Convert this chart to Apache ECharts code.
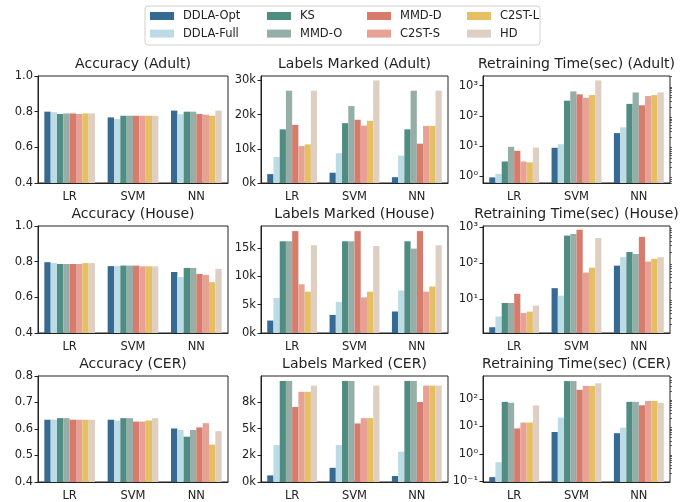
<!DOCTYPE html>
<html>
<head>
<meta charset="utf-8">
<script src="https://cdn.jsdelivr.net/npm/echarts@6/dist/echarts.min.js"></script>
<style>
  html, body { margin: 0; padding: 0; background: #fff; }
  #chart { width: 684px; height: 502px; }
</style>
</head>
<body>
<div id="chart"></div>
<script>
var categories = ['LR', 'SVM', 'NN'];
var methods = ['DDLA-Opt', 'DDLA-Full', 'KS', 'MMD-O', 'MMD-D', 'C2ST-S', 'C2ST-L', 'HD'];
var colors = ['#366a92', '#bcdbe5', '#4f8c82', '#95aea7', '#d77b6d', '#e8a295', '#e5bf63', '#dfcfc2'];

// one row per category (LR, SVM, NN), one value per method
var accAdult = [
  [0.800, 0.797, 0.787, 0.790, 0.790, 0.787, 0.790, 0.790],
  [0.768, 0.758, 0.777, 0.777, 0.777, 0.777, 0.777, 0.777],
  [0.806, 0.786, 0.800, 0.800, 0.787, 0.783, 0.777, 0.806]
];
var labelsAdult = [
  [2600, 7600, 15700, 27000, 17000, 10800, 11300, 27000],
  [3000, 8700, 17500, 22500, 18500, 16800, 18200, 30000],
  [1700, 8000, 15700, 27000, 11500, 16700, 16700, 27000]
];
var timeAdult = [
  [0.92, 1.2, 3.1, 9.5, 7.0, 3.1, 2.9, 9.0],
  [8.8, 11.6, 320, 650, 520, 400, 490, 1500],
  [27, 42, 250, 600, 225, 455, 490, 600]
];
var accHouse = [
  [0.797, 0.792, 0.787, 0.787, 0.787, 0.787, 0.792, 0.792],
  [0.775, 0.775, 0.778, 0.778, 0.778, 0.774, 0.774, 0.774],
  [0.742, 0.714, 0.765, 0.765, 0.731, 0.726, 0.685, 0.760]
];
var labelsHouse = [
  [2200, 6200, 16200, 16200, 18000, 8600, 7300, 15500],
  [3200, 5500, 16200, 16200, 18000, 6300, 7300, 15350],
  [3800, 7500, 16200, 14900, 18000, 7300, 8200, 15500]
];
var timeHouse = [
  [1.66, 3.3, 7.8, 7.8, 14, 4.1, 4.5, 6.6],
  [20, 12.4, 570, 630, 830, 54, 74, 490],
  [84, 144, 200, 176, 525, 109, 130, 144]
];
var accCER = [
  [0.635, 0.635, 0.641, 0.641, 0.635, 0.635, 0.635, 0.635],
  [0.635, 0.632, 0.641, 0.641, 0.628, 0.628, 0.632, 0.641],
  [0.602, 0.596, 0.571, 0.596, 0.606, 0.622, 0.541, 0.592]
];
var labelsCER = [
  [620, 3460, 9475, 9475, 7040, 8460, 8460, 9040],
  [1330, 3460, 9475, 9475, 5490, 5990, 5990, 9040],
  [560, 2840, 9475, 9475, 7500, 9040, 9040, 9040]
];
var timeCER = [
  [0.143, 0.5, 79, 73, 8.5, 13.9, 13.9, 59],
  [6.3, 21, 450, 450, 217, 300, 300, 375],
  [5.7, 9.1, 79, 79, 59, 85, 85, 73]
];

// y tick positions
var accTicks = [0.4, 0.6, 0.8, 1.0];
var accTicksCER = [0.4, 0.5, 0.6, 0.7, 0.8];
var labelTicksAdult = [0, 10000, 20000, 30000];
var labelTicksHouse = [0, 5000, 10000, 15000];
var labelTicksCER = [0, 2500, 5000, 7500];
var timeTicksAdult = [1, 10, 100, 1000];
var timeTicksHouse = [10, 100, 1000];
var timeTicksCER = [0.1, 1, 10, 100];

function fmtDec(v) { return v.toFixed(1); }
function fmtK(v) {
  // python style round-half-even, like '%.0fk'
  var k = v / 1000, f = Math.floor(k), r;
  if (Math.abs(k - f - 0.5) < 1e-9) r = (f % 2 === 0) ? f : f + 1;
  else r = Math.round(k);
  return r + 'k';
}
var sup = { '-': '\u207B', '0': '\u2070', '1': '\u00B9', '2': '\u00B2', '3': '\u00B3', '4': '\u2074' };
function fmtPow(v) {
  var e = Math.round(Math.log10(v));
  return '10' + String(e).split('').map(function(c) { return sup[c]; }).join('');
}
// log minor ticks 2..9 x 10^n inside [min, max]
function minorLog(min, max) {
  var out = [];
  for (var e = Math.floor(Math.log10(min)); e <= Math.ceil(Math.log10(max)); e++) {
    for (var k = 2; k <= 9; k++) {
      var v = k * Math.pow(10, e);
      if (v >= min && v <= max) out.push(v);
    }
  }
  return out;
}

var panels = [
  { title: 'Accuracy (Adult)', data: accAdult, type: 'value', min: 0.4, max: 1.0, ticks: accTicks, fmt: fmtDec },
  { title: 'Labels Marked (Adult)', data: labelsAdult, type: 'value', min: 0, max: 31300, ticks: labelTicksAdult, fmt: fmtK },
  { title: 'Retraining Time(sec) (Adult)', data: timeAdult, type: 'log', min: 0.6, max: 2100, ticks: timeTicksAdult, fmt: fmtPow },
  { title: 'Accuracy (House)', data: accHouse, type: 'value', min: 0.4, max: 1.0, ticks: accTicks, fmt: fmtDec },
  { title: 'Labels Marked (House)', data: labelsHouse, type: 'value', min: 0, max: 18900, ticks: labelTicksHouse, fmt: fmtK },
  { title: 'Retraining Time(sec) (House)', data: timeHouse, type: 'log', min: 1.15, max: 1050, ticks: timeTicksHouse, fmt: fmtPow },
  { title: 'Accuracy (CER)', data: accCER, type: 'value', min: 0.4, max: 0.8, ticks: accTicksCER, fmt: fmtDec },
  { title: 'Labels Marked (CER)', data: labelsCER, type: 'value', min: 0, max: 9940, ticks: labelTicksCER, fmt: fmtK },
  { title: 'Retraining Time(sec) (CER)', data: timeCER, type: 'log', min: 0.095, max: 690, ticks: timeTicksCER, fmt: fmtPow }
];

var gridLefts = [38, 261, 483];
var gridWidths = [190, 187, 187];
var gridTops = [76, 226, 376];
var gridH = 107;
var ink = '#222';
var font = 'DejaVu Sans';

var grids = [], xAxes = [], yAxes = [], series = [], graphics = [];

panels.forEach(function(p, i) {
  var col = i % 3, row = Math.floor(i / 3);
  grids.push({
    left: gridLefts[col], top: gridTops[row], width: gridWidths[col], height: gridH,
    show: true, borderColor: ink, borderWidth: 1, backgroundColor: 'transparent'
  });
  xAxes.push({
    gridIndex: i, type: 'category', data: categories,
    axisLine: { lineStyle: { color: ink, width: 1 } },
    axisTick: { alignWithLabel: true, length: 3.5, lineStyle: { color: ink } },
    axisLabel: { color: ink, fontSize: 11.5, fontFamily: font, margin: 8 }
  });
  var yIndex = yAxes.length;
  yAxes.push({
    gridIndex: i, type: p.type, min: p.min, max: p.max, startValue: p.min,
    axisLine: { show: true, lineStyle: { color: ink, width: 1 } },
    axisTick: { show: true, length: 3.5, customValues: p.ticks, lineStyle: { color: ink } },
    axisLabel: { customValues: p.ticks, formatter: p.fmt, color: ink, fontSize: 11.5, fontFamily: font, margin: 5 },
    splitLine: { show: false }
  });
  if (p.type === 'log') {
    // second axis on the same grid only for the small log minor ticks
    yAxes.push({
      gridIndex: i, type: 'log', min: p.min, max: p.max,
      axisLine: { show: false },
      axisTick: { show: true, length: 2, customValues: minorLog(p.min, p.max), lineStyle: { color: ink, width: 0.7 } },
      axisLabel: { show: false },
      splitLine: { show: false }
    });
  }
  methods.forEach(function(m, mi) {
    series.push({
      type: 'bar', name: m, xAxisIndex: i, yAxisIndex: yIndex,
      data: categories.map(function(c, ci) { return p.data[ci][mi]; }),
      itemStyle: { color: colors[mi] },
      barGap: '0%', barCategoryGap: '20%', clip: true,
      emphasis: { disabled: true }
    });
  });
  graphics.push({
    type: 'text', x: gridLefts[col] + gridWidths[col] / 2, y: gridTops[row] - 12,
    style: {
      text: p.title, fill: ink, fontSize: 14, fontFamily: font,
      align: 'center', verticalAlign: 'middle', textAlign: 'center', textVerticalAlign: 'middle'
    }
  });
});

// legend frame
graphics.push({
  type: 'rect', shape: { x: 145, y: 6, width: 395, height: 39, r: 3 },
  style: { fill: 'none', stroke: '#d0d0d0', lineWidth: 1 }, z: -1
});

var legendLefts = [150, 267, 367, 467];
var legends = legendLefts.map(function(lx, k) {
  return {
    orient: 'vertical', left: lx, top: 9, padding: 0,
    data: methods.slice(k * 2, k * 2 + 2),
    itemWidth: 24, itemHeight: 8, itemGap: 3.6, icon: 'rect',
    selectedMode: false,
    textStyle: { color: ink, fontSize: 11.5, fontFamily: font, lineHeight: 14, padding: [0, 0, 0, 4] }
  };
});

var chart = echarts.init(document.getElementById('chart'), null, { renderer: 'canvas' });
chart.setOption({
  animation: false,
  backgroundColor: '#fff',
  legend: legends,
  grid: grids,
  xAxis: xAxes,
  yAxis: yAxes,
  series: series,
  graphic: graphics
});
</script>
</body>
</html>
